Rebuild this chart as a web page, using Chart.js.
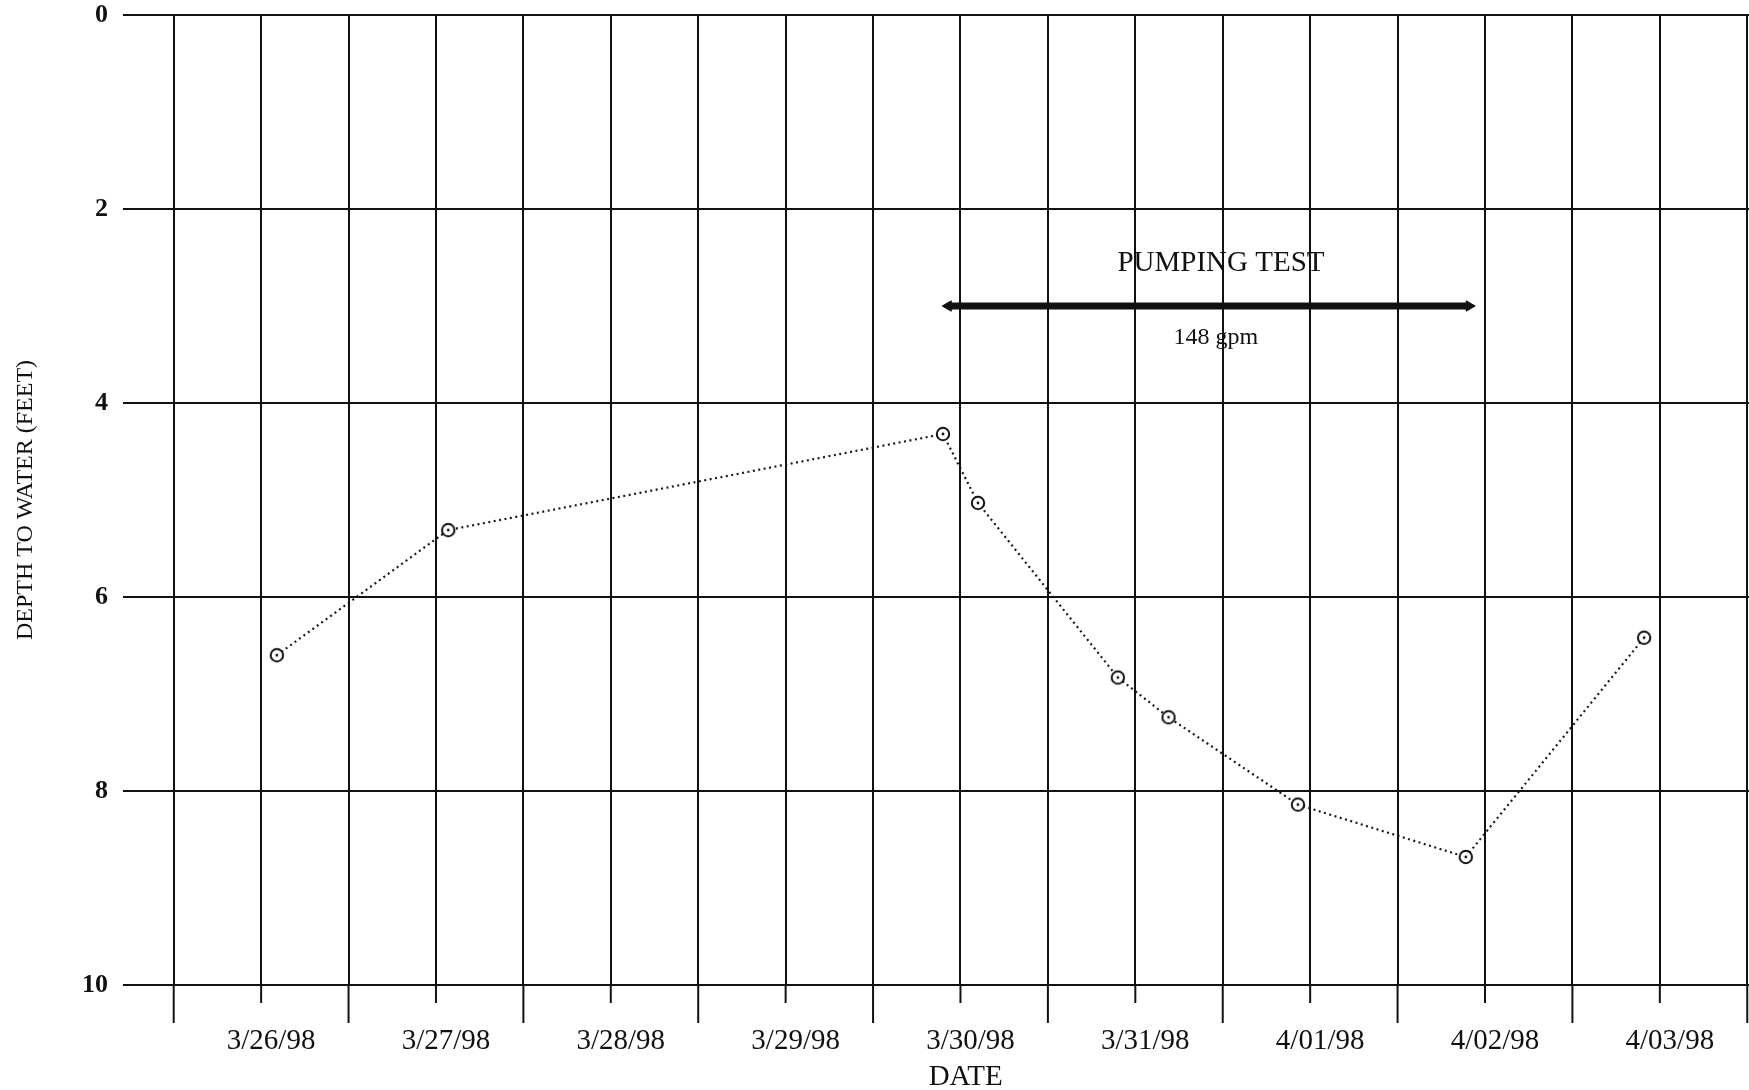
<!DOCTYPE html>
<html>
<head>
<meta charset="utf-8">
<title>Depth to water</title>
<script src="https://cdn.jsdelivr.net/npm/chart.js@4.4.1/dist/chart.umd.min.js"></script>
<style>
  html, body { margin: 0; padding: 0; background: #fff; }
  #wrap { width: 1749px; height: 1090px; }
</style>
</head>
<body>
<div id="wrap"><canvas id="myChart" width="1749" height="1090"></canvas></div>
<script>
// days counted from 3/26/98 (0 = 3/26/98)
const dayLabels = ['3/26/98', '3/27/98', '3/28/98', '3/29/98', '3/30/98', '3/31/98', '4/01/98', '4/02/98', '4/03/98'];
const gridDays = [-0.5, 0, 0.5, 1, 1.5, 2, 2.5, 3, 3.5, 4, 4.5, 5, 5.5, 6, 6.5, 7, 7.5, 8, 8.5];
const depthTicks = [0, 2, 4, 6, 8, 10];

const sampleDay = [0.09, 1.07, 3.90, 4.10, 4.90, 5.19, 5.93, 6.89, 7.91];
const depthToWater = [6.60, 5.31, 4.32, 5.03, 6.83, 7.24, 8.14, 8.68, 6.42];

const pumpingDays = [3.93, 6.91];
const pumpingDepth = 3.0;
const pumpingTitle = 'PUMPING TEST';
const pumpingRate = '148 gpm';

const xTitle = 'DATE';
const yTitle = 'DEPTH TO WATER (FEET)';

const ink = '#111';
const serif = '"Liberation Serif", "Times New Roman", serif';

Chart.defaults.font.family = serif;
Chart.defaults.color = ink;

// circle marker with a dot in the middle
function makeMarker() {
    let c = document.createElement('canvas');
    c.width = 18;
    c.height = 18;
    let g = c.getContext('2d');
    g.fillStyle = '#fff';
    g.strokeStyle = ink;
    g.lineWidth = 2;
    g.beginPath();
    g.arc(9, 9, 6.2, 0, Math.PI * 2);
    g.fill();
    g.stroke();
    g.fillStyle = ink;
    g.beginPath();
    g.arc(9, 9, 1.4, 0, Math.PI * 2);
    g.fill();
    return c;
}

// tick marks below the plot: short on whole days, long on half days
const bottomTicks = {
    id: 'bottomTicks',
    afterDraw(chart) {
        let ctx = chart.ctx;
        let x = chart.scales.x;
        let bottom = chart.chartArea.bottom;
        ctx.save();
        ctx.strokeStyle = ink;
        ctx.lineWidth = 2;
        x.ticks.forEach(t => {
            let px = x.getPixelForValue(t.value);
            let len = Number.isInteger(t.value) ? 18 : 38;
            ctx.beginPath();
            ctx.moveTo(px, bottom);
            ctx.lineTo(px, bottom + len);
            ctx.stroke();
        });
        ctx.restore();
    }
};

// annotation text and the DATE title (which sits right of the axis centre)
const extraText = {
    id: 'extraText',
    afterDatasetsDraw(chart) {
        let ctx = chart.ctx;
        let x = chart.scales.x;
        let y = chart.scales.y;
        ctx.save();
        ctx.fillStyle = ink;
        ctx.textAlign = 'center';
        ctx.textBaseline = 'middle';
        ctx.font = '29px ' + serif;
        ctx.fillText(pumpingTitle, x.getPixelForValue(5.49), y.getPixelForValue(2.56));
        ctx.font = '24px ' + serif;
        ctx.fillText(pumpingRate, x.getPixelForValue(5.46), y.getPixelForValue(3.33));
        ctx.font = '29px ' + serif;
        ctx.fillText(xTitle, x.getPixelForValue(4.03), chart.chartArea.bottom + 92);
        ctx.restore();
    }
};

let ctx = document.getElementById('myChart').getContext('2d');
let chart = new Chart(ctx, {
    type: 'scatter',
    data: {
        datasets: [{
            label: 'Depth to water',
            data: sampleDay.map((d, i) => ({ x: d, y: depthToWater[i] })),
            showLine: true,
            borderColor: '#1a1a1a',
            borderWidth: 2.2,
            borderDash: [2, 3.5],
            pointStyle: makeMarker(),
            pointRadius: 7
        },
        {
            label: pumpingTitle,
            data: pumpingDays.map(d => ({ x: d, y: pumpingDepth })),
            showLine: true,
            borderColor: ink,
            borderWidth: 7,
            pointStyle: 'triangle',
            pointRotation: [270, 90],
            pointRadius: 6,
            pointBackgroundColor: ink,
            pointBorderColor: ink,
            pointBorderWidth: 1
        }]
    },
    options: {
        responsive: false,
        animation: false,
        layout: {
            autoPadding: false,
            padding: { top: 15, right: 0, bottom: 0, left: 0 }
        },
        plugins: {
            legend: { display: false },
            tooltip: { enabled: false }
        },
        scales: {
            x: {
                type: 'linear',
                min: -0.79,
                max: 8.51,
                afterBuildTicks: axis => {
                    axis.ticks = gridDays.map(v => ({ value: v }));
                },
                afterFit: axis => {
                    axis.height = 105;
                    // the label padding would otherwise be added to the sides
                    axis.paddingLeft = 0;
                    axis.paddingRight = 0;
                },
                grid: {
                    color: ink,
                    lineWidth: 2,
                    drawTicks: false
                },
                border: { display: false },
                ticks: {
                    autoSkip: false,
                    maxRotation: 0,
                    padding: 39,
                    labelOffset: 10,
                    font: { size: 29 },
                    callback: value => Number.isInteger(value) ? dayLabels[value] : ''
                }
            },
            y: {
                reverse: true,
                min: 0,
                max: 10,
                afterBuildTicks: axis => {
                    axis.ticks = depthTicks.map(v => ({ value: v }));
                },
                afterFit: axis => {
                    axis.width = 123;
                    axis.paddingTop = 0;
                    axis.paddingBottom = 0;
                },
                grid: {
                    color: ink,
                    lineWidth: 2,
                    drawTicks: false
                },
                border: { display: false },
                ticks: {
                    padding: 15,
                    font: { size: 26, weight: 'bold' }
                },
                title: {
                    display: true,
                    text: yTitle,
                    font: { size: 24 },
                    padding: { top: 11, bottom: 0 }
                }
            }
        }
    },
    plugins: [bottomTicks, extraText]
});
</script>
</body>
</html>
